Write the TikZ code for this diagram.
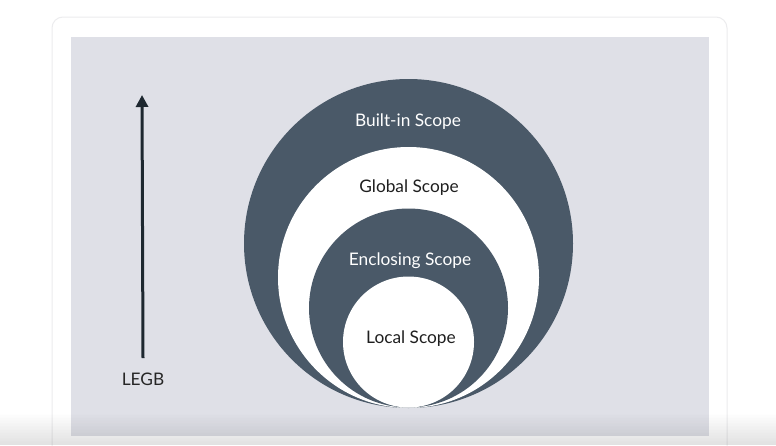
\documentclass[tikz,border=0pt]{standalone}
\usepackage{fontspec}
\setmainfont{Lato}
\usetikzlibrary{arrows.meta}
\definecolor{panel}{RGB}{223,224,231}
\definecolor{scopedark}{RGB}{74,89,104}
\definecolor{inkdark}{RGB}{30,40,48}
\definecolor{cardedge}{RGB}{236,236,238}
\tikzset{
  labelfont/.style={font=\fontsize{17.3}{20}\selectfont, inner sep=0pt},
  ring/.style={fill=scopedark, draw=none},
  hole/.style={fill=white, draw=none},
  lightlabel/.style={labelfont, text=white},
  darklabel/.style={labelfont, text=black!88},
}
\begin{document}
\begin{tikzpicture}[x=1pt,y=-1pt]
\useasboundingbox (0,0) rectangle (776,445);
\fill[white] (0,0) rectangle (776,445);
% card and panel
\draw[cardedge, fill=white, rounded corners=11pt, line width=1pt] (52,17) rectangle (727,470);
\fill[panel] (71,37) rectangle (709,436);
% nested scopes, all touching at the bottom point
\coordinate (base) at (408.5,407.5);
\fill[ring] (408.5,243.5) circle[radius=164.5];
\fill[hole] (408.5,277.5) circle[radius=130.5];
\fill[ring] (408.5,308) circle[radius=99.5];
\fill[hole] (408.5,342) circle[radius=65.5];
\node[lightlabel] (builtin) at (408,122) {Built-in Scope};
\node[darklabel] (global) at (409,188) {Global Scope};
\node[lightlabel] (enclosing) at (410,261) {Enclosing Scope};
\node[darklabel] (local) at (411,339) {Local Scope};
% LEGB lookup arrow
\node[labelfont, text=black!85] (legb) at (143,379) {LEGB};
\coordinate (arrowtip) at (142,95);
\draw[inkdark, line width=3pt, -{Triangle[width=12pt,length=12pt]}] (legb.north |- 0,358) -- (arrowtip);
% soft shadow along the bottom edge, built from thin strips
\foreach \i in {0,...,21}
  \fill[black, opacity=0.0055*\i] (0,412+1.5*\i) rectangle (776,413.5+1.5*\i);
\end{tikzpicture}
\end{document}
